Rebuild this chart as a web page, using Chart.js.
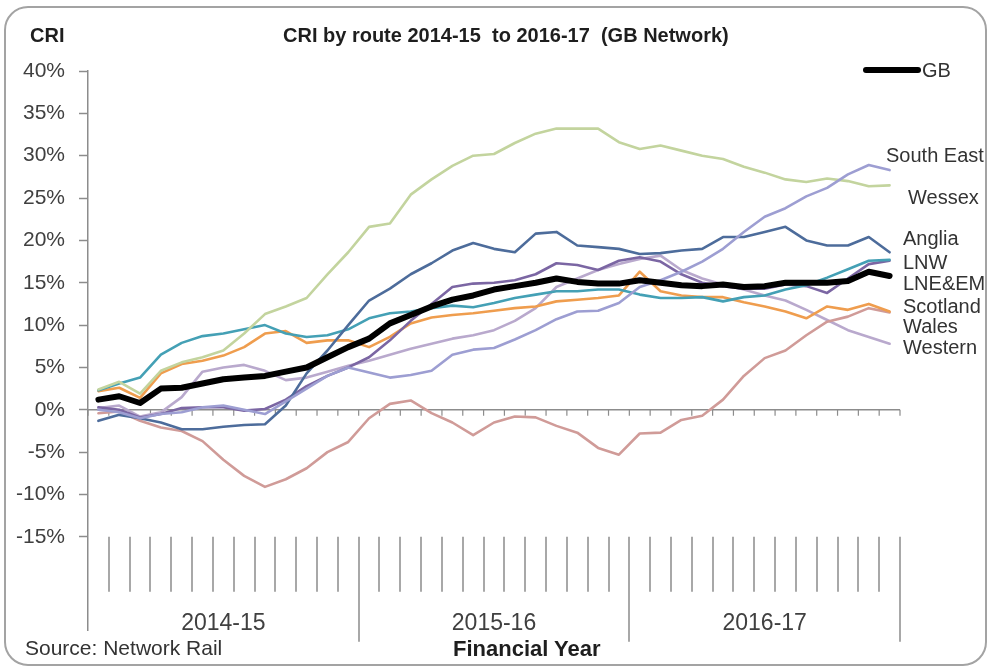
<!DOCTYPE html>
<html>
<head>
<meta charset="utf-8">
<script src="https://cdn.jsdelivr.net/npm/chart.js@4.4.1/dist/chart.umd.min.js"></script>
<style>
  html, body { margin: 0; padding: 0; background: #fff; }
  #wrap { position: relative; width: 989px; height: 671px; overflow: hidden;
          font-family: "Liberation Sans", Arial, sans-serif; color: #333; }
  #frame { position: absolute; left: 4px; top: 6px; width: 983px; height: 660px;
           border: 2px solid #a3a3a3; border-radius: 24px; box-sizing: border-box; }
  canvas { position: absolute; left: 0; top: 0; }
  .txt { position: absolute; white-space: nowrap; line-height: 1; }
  .bold { font-weight: bold; color: #1e1e1e; }
  .route { font-size: 20px; color: #333; }
  #gbLine { position: absolute; left: 863px; top: 67px; width: 58px; height: 6px;
            background: #000; border-radius: 3px; }
</style>
</head>
<body>
<div id="wrap">
  <div id="frame"></div>
  <canvas id="criChart" width="989" height="671"></canvas>

  <div class="txt bold" style="left:30px; top:25px; font-size:20px;">CRI</div>
  <div class="txt bold" style="left:283px; top:25px; font-size:20px;">CRI by route 2014-15&nbsp; to 2016-17&nbsp; (GB Network)</div>

  <div id="gbLine"></div>
  <div class="txt route" style="left:922px; top:60px;">GB</div>

  <div class="txt route" style="left:886px; top:145px;">South East</div>
  <div class="txt route" style="left:908px; top:187px;">Wessex</div>
  <div class="txt route" style="left:903px; top:228px;">Anglia</div>
  <div class="txt route" style="left:903px; top:252px;">LNW</div>
  <div class="txt route" style="left:903px; top:273px;">LNE&amp;EM</div>
  <div class="txt route" style="left:903px; top:296px;">Scotland</div>
  <div class="txt route" style="left:903px; top:316px;">Wales</div>
  <div class="txt route" style="left:903px; top:337px;">Western</div>

  <div class="txt" style="left:25px; top:637px; font-size:21px; color:#333;">Source: Network Rail</div>
  <div class="txt bold" style="left:453px; top:638px; font-size:22px;">Financial Year</div>
</div>

<script>
// financial years, 13 rail periods each
const years = ["2014-15", "2015-16", "2016-17"];
const periodsPerYear = 13;
const periods = [];
years.forEach(fy => {
  for (let p = 1; p <= periodsPerYear; p++) periods.push(fy + " P" + String(p).padStart(2, "0"));
});

const yTicks = [-15, -10, -5, 0, 5, 10, 15, 20, 25, 30, 35, 40];

// CRI (%) per period
const gb = [1.2, 1.6, 0.8, 2.5, 2.6, 3.1, 3.6, 3.8, 4.0, 4.5, 5.0, 6.2, 7.4,
  8.4, 10.2, 11.2, 12.2, 13.0, 13.5, 14.2, 14.6, 15.0, 15.5, 15.1, 14.9, 14.9,
  15.3, 15.0, 14.7, 14.6, 14.8, 14.5, 14.6, 15.0, 15.0, 15.0, 15.2, 16.3, 15.8];
const southEast = [0.0, -0.3, -1.0, -0.5, -0.3, 0.3, 0.5, 0.0, -0.5, 1.0, 2.5, 4.0, 5.0,
  4.4, 3.8, 4.1, 4.6, 6.5, 7.1, 7.3, 8.3, 9.4, 10.7, 11.6, 11.7, 12.6,
  14.5, 15.3, 16.3, 17.5, 19.0, 21.0, 22.8, 23.8, 25.2, 26.2, 27.8, 28.9, 28.3];
const wessex = [2.4, 3.3, 1.9, 4.6, 5.6, 6.2, 7.0, 9.0, 11.3, 12.2, 13.2, 16.0, 18.6,
  21.6, 22.0, 25.4, 27.2, 28.8, 30.0, 30.2, 31.5, 32.6, 33.2, 33.2, 33.2, 31.6,
  30.8, 31.2, 30.6, 30.0, 29.6, 28.7, 28.0, 27.2, 26.9, 27.3, 27.0, 26.4, 26.5];
const anglia = [-1.3, -0.6, -1.0, -1.5, -2.3, -2.3, -2.0, -1.8, -1.7, 0.5, 4.3, 7.0, 10.0,
  12.9, 14.3, 16.0, 17.3, 18.8, 19.7, 19.0, 18.6, 20.8, 21.0, 19.4, 19.2, 19.0,
  18.4, 18.5, 18.8, 19.0, 20.4, 20.4, 21.0, 21.6, 20.0, 19.4, 19.4, 20.4, 18.6];
const lnw = [2.3, 3.1, 3.8, 6.5, 7.9, 8.7, 9.0, 9.5, 10.0, 9.0, 8.6, 8.8, 9.5,
  10.8, 11.4, 11.6, 12.0, 12.3, 12.1, 12.6, 13.2, 13.6, 14.0, 14.0, 14.2, 14.2,
  13.6, 13.2, 13.2, 13.3, 12.8, 13.3, 13.5, 14.2, 14.7, 15.6, 16.6, 17.6, 17.7];
const lneem = [0.3, 0.0, -0.9, -0.5, 0.2, 0.3, 0.3, -0.1, 0.1, 1.2, 2.8, 4.0, 5.0,
  6.2, 8.2, 10.5, 12.5, 14.5, 14.9, 15.0, 15.3, 16.0, 17.3, 17.1, 16.5, 17.6,
  18.0, 17.5, 16.0, 15.0, 14.6, 14.3, 14.3, 14.8, 14.6, 13.8, 15.5, 17.2, 17.6];
const scotland = [2.2, 2.6, 1.4, 4.3, 5.4, 5.8, 6.4, 7.4, 9.0, 9.3, 7.9, 8.2, 8.2,
  7.4, 8.6, 10.2, 10.9, 11.2, 11.4, 11.7, 12.0, 12.2, 12.8, 13.0, 13.2, 13.5,
  16.3, 14.0, 13.5, 13.3, 13.3, 12.7, 12.2, 11.6, 10.8, 12.2, 11.8, 12.5, 11.6];
const wales = [-0.4, -0.2, -1.3, -2.1, -2.5, -3.7, -5.9, -7.8, -9.1, -8.2, -6.9, -5.0, -3.8,
  -1.0, 0.7, 1.1, -0.4, -1.5, -3.0, -1.5, -0.8, -0.9, -1.9, -2.7, -4.5, -5.3,
  -2.8, -2.7, -1.2, -0.7, 1.2, 4.0, 6.1, 7.0, 8.8, 10.4, 11.0, 12.0, 11.5];
const western = [0.2, 0.5, -0.8, -0.3, 1.5, 4.5, 5.0, 5.3, 4.6, 3.5, 3.8, 4.5, 5.2,
  5.8, 6.5, 7.2, 7.8, 8.4, 8.8, 9.4, 10.5, 12.0, 14.5, 15.5, 16.5, 17.2,
  17.8, 18.2, 16.5, 15.5, 14.8, 14.2, 13.5, 12.9, 11.8, 10.6, 9.4, 8.6, 7.8];

const FONT = "'Liberation Sans', Arial, sans-serif";

function route(label, data, color, width) {
  return {
    label, data, borderColor: color, borderWidth: width || 2.6,
    borderJoinStyle: "round", borderCapStyle: "round", pointRadius: 0, tension: 0
  };
}

// category axis sitting on the 0% line plus the period / year strip underneath
const periodAxis = {
  id: "periodAxis",
  beforeDatasetsDraw(chart) {
    const { ctx, scales: { x, y } } = chart;
    const n = periods.length;
    const y0 = y.getPixelForValue(0);
    const yTop = y.getPixelForValue(-15);
    const edge = i => x.getPixelForValue(i - 0.5);

    ctx.save();
    ctx.strokeStyle = "#8c8c8c";
    ctx.lineWidth = 1.5;
    ctx.beginPath();
    ctx.moveTo(x.left, y0);
    ctx.lineTo(x.right, y0);
    ctx.stroke();

    ctx.lineWidth = 1.2;
    ctx.beginPath();
    for (let i = 0; i <= n; i++) {
      ctx.moveTo(edge(i), y0);
      ctx.lineTo(edge(i), y0 + 6);
    }
    ctx.stroke();

    ctx.strokeStyle = "#a8a8a8";
    ctx.lineWidth = 2;
    ctx.beginPath();
    for (let i = 1; i <= n; i++) {
      const px = Math.round(edge(i));
      const long = i % periodsPerYear === 0;
      ctx.moveTo(px, yTop);
      ctx.lineTo(px, yTop + (long ? 105 : 55));
    }
    ctx.stroke();

    ctx.fillStyle = "#404040";
    ctx.font = "23px " + FONT;
    ctx.textAlign = "center";
    ctx.textBaseline = "alphabetic";
    years.forEach((fy, k) => {
      ctx.fillText(fy, x.getPixelForValue(k * periodsPerYear + 6), yTop + 93);
    });
    ctx.restore();
  }
};

new Chart(document.getElementById("criChart"), {
  type: "line",
  data: {
    labels: periods,
    // first dataset is painted last, so GB sits on top
    datasets: [
      route("GB", gb, "#000000", 6),
      route("South East", southEast, "#9d9ed2"),
      route("Wessex", wessex, "#c3d49e"),
      route("Anglia", anglia, "#4d6c9b"),
      route("LNW", lnw, "#44a0b5"),
      route("LNE&EM", lneem, "#7b66a3"),
      route("Scotland", scotland, "#ef9d4e"),
      route("Wales", wales, "#d09b98"),
      route("Western", western, "#b9a9cd")
    ]
  },
  options: {
    responsive: false,
    animation: false,
    layout: { padding: { left: 0, right: 89, top: 71, bottom: 41 } },
    plugins: { legend: { display: false }, tooltip: { enabled: false } },
    scales: {
      x: { type: "category", offset: true, display: false },
      y: {
        min: -26,
        max: 40,
        afterBuildTicks: s => { s.ticks = yTicks.map(v => ({ value: v })); },
        afterFit: s => { s.width = 88; },
        ticks: {
          callback: v => v + "%",
          color: "#404040",
          font: { family: FONT, size: 21 },
          padding: 14
        },
        grid: { drawOnChartArea: false, drawTicks: true, tickLength: 9, tickColor: "#8c8c8c", tickWidth: 1.5 },
        border: { display: true, color: "#8c8c8c", width: 1.5 }
      }
    }
  },
  plugins: [periodAxis]
});
</script>
</body>
</html>
